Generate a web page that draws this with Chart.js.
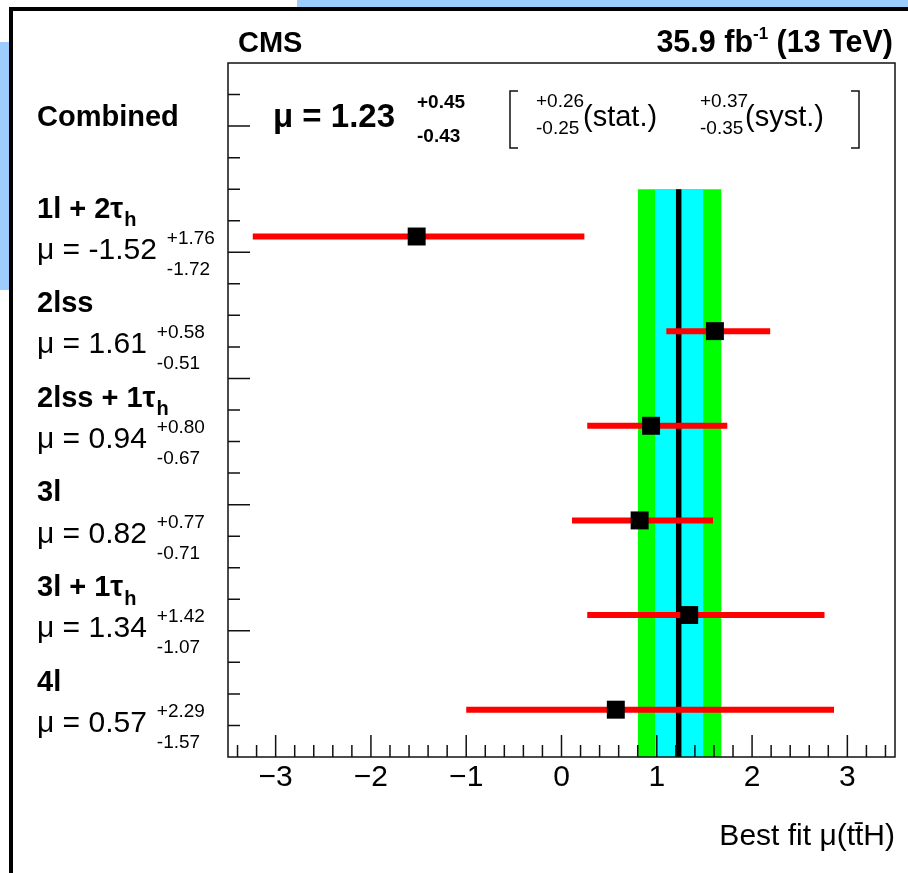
<!DOCTYPE html>
<html>
<head>
<meta charset="UTF-8">
<title>ttH best fit signal strength</title>
<script src="https://cdn.jsdelivr.net/npm/chart.js"></script>
<style>
  body { margin: 0; background: #fff; }
  #wrap { position: relative; width: 908px; height: 873px; overflow: hidden; background: #fff; }
  .blue { position: absolute; background: #9ccdfc; }
  #frame { position: absolute; left: 9px; top: 7px; width: 960px; height: 960px; border: 4px solid #000; box-sizing: border-box; }
  canvas { position: absolute; left: 0; top: 0; }
</style>
</head>
<body>
<div id="wrap">
  <div class="blue" style="left:297px;top:0;width:611px;height:8px"></div>
  <div class="blue" style="left:0;top:42px;width:10px;height:248px"></div>
  <div id="frame"></div>
  <canvas id="fit" width="908" height="873"></canvas>
</div>

<script>
  // per-channel fit results
  const channels = ['1l + 2τ_h', '2lss', '2lss + 1τ_h', '3l', '3l + 1τ_h', '4l'];
  const muFit   = [-1.52, 1.61, 0.94, 0.82, 1.34, 0.57];
  const errUp   = [1.76, 0.58, 0.80, 0.77, 1.42, 2.29];
  const errDown = [1.72, 0.51, 0.67, 0.71, 1.07, 1.57];
  const rowPos  = [16.5, 13.5, 10.5, 7.5, 4.5, 1.5];

  // combined result
  const comboMu = 1.23, comboUp = 0.45, comboDown = 0.43;
  const statUp = 0.26, statDown = 0.25;
  const systUp = 0.37, systDown = 0.35;
  const bandTop = 18;

  const xMajor = [-3, -2, -1, 0, 1, 2, 3];

  const FAM = "'Liberation Sans', Arial, Helvetica, sans-serif";

  function put(ctx, s, x, y, font, align) {
    ctx.font = font + ' ' + FAM;
    ctx.textAlign = align || 'left';
    ctx.textBaseline = 'middle';
    ctx.fillText(s, x, y);
    return ctx.measureText(s).width;
  }

  const annotate = {
    id: 'annotate',
    afterDraw(chart) {
      const { ctx, chartArea: a, scales: { x, y } } = chart;
      ctx.save();
      ctx.fillStyle = '#000';
      ctx.strokeStyle = '#111';
      ctx.lineWidth = 1.5;

      // frame
      ctx.strokeRect(a.left, a.top, a.right - a.left, a.bottom - a.top);

      // x ticks (inside, pointing up)
      ctx.beginPath();
      for (let k = -17; k <= 17; k++) {
        const px = x.getPixelForValue(k / 5);
        const len = k % 5 === 0 ? 22 : 12;
        ctx.moveTo(px, a.bottom);
        ctx.lineTo(px, a.bottom - len);
      }
      // y ticks (inside, pointing right)
      for (let k = 1; k <= 21; k++) {
        const py = y.getPixelForValue(k);
        const len = k % 4 === 0 ? 22 : 12;
        ctx.moveTo(a.left, py);
        ctx.lineTo(a.left + len, py);
      }
      ctx.stroke();

      // header
      put(ctx, 'CMS', a.left + 10, a.top - 19, 'bold 29px');
      const lumiA = '35.9 fb', lumiS = '-1', lumiB = ' (13 TeV)';
      ctx.font = 'bold 30.5px ' + FAM;
      const wA = ctx.measureText(lumiA).width, wB = ctx.measureText(lumiB).width;
      ctx.font = 'bold 17px ' + FAM;
      const wS = ctx.measureText(lumiS).width;
      let lx = a.right - 2 - (wA + wS + wB);
      lx += put(ctx, lumiA, lx, a.top - 19, 'bold 30.5px');
      lx += put(ctx, lumiS, lx, a.top - 29, 'bold 17px');
      put(ctx, lumiB, lx, a.top - 19, 'bold 30.5px');

      // combined line
      const yc = a.top + 55;
      put(ctx, 'Combined', 37, yc, 'bold 29px');
      put(ctx, 'μ = ' + comboMu.toFixed(2), 273, yc, 'bold 33px');
      put(ctx, '+' + comboUp.toFixed(2), 417, yc - 15, 'bold 19px');
      put(ctx, '-' + comboDown.toFixed(2), 417, yc + 19, 'bold 19px');
      ctx.beginPath();
      ctx.moveTo(518, yc - 27); ctx.lineTo(510, yc - 27); ctx.lineTo(510, yc + 30); ctx.lineTo(518, yc + 30);
      ctx.moveTo(851, yc - 27); ctx.lineTo(859, yc - 27); ctx.lineTo(859, yc + 30); ctx.lineTo(851, yc + 30);
      ctx.stroke();
      put(ctx, '+' + statUp.toFixed(2), 536, yc - 16, '19px');
      put(ctx, '-' + statDown.toFixed(2), 536, yc + 11, '19px');
      put(ctx, '(stat.)', 583, yc, '29px');
      put(ctx, '+' + systUp.toFixed(2), 700, yc - 16, '19px');
      put(ctx, '-' + systDown.toFixed(2), 700, yc + 11, '19px');
      put(ctx, '(syst.)', 745, yc, '29px');

      // channel labels
      channels.forEach((name, i) => {
        const p = y.getPixelForValue(rowPos[i]);
        const [main, sub] = name.split('_');
        const w = put(ctx, main, 37, p - 27, 'bold 29px');
        if (sub) put(ctx, sub, 37 + w + 1, p - 16, 'bold 20px');
        const wm = put(ctx, 'μ = ' + muFit[i].toFixed(2), 37, p + 14, '30px');
        put(ctx, '+' + errUp[i].toFixed(2), 37 + wm + 10, p + 2, '19px');
        put(ctx, '-' + errDown[i].toFixed(2), 37 + wm + 10, p + 33, '19px');
      });
      ctx.restore();
    }
  };

  const datasets = [
    {
      data: muFit.map((m, i) => ({ x: m, y: rowPos[i] })),
      showLine: false,
      pointStyle: 'rect',
      pointRadius: 12.7,
      pointBackgroundColor: '#000',
      pointBorderWidth: 0,
      order: 0
    }
  ];
  muFit.forEach((m, i) => {
    datasets.push({
      data: [{ x: m - errDown[i], y: rowPos[i] }, { x: m + errUp[i], y: rowPos[i] }],
      borderColor: '#ff0000',
      borderWidth: 6,
      borderCapStyle: 'butt',
      pointRadius: 0,
      order: 1
    });
  });
  datasets.push({
    data: [{ x: comboMu, y: 0 }, { x: comboMu, y: bandTop }],
    borderColor: '#000',
    borderWidth: 5.5,
    pointRadius: 0,
    order: 2
  });
  datasets.push({
    data: [{ x: comboMu - statDown, y: bandTop }, { x: comboMu + statUp, y: bandTop }],
    borderWidth: 0,
    borderColor: 'rgba(0,0,0,0)',
    backgroundColor: '#00ffff',
    fill: 'origin',
    pointRadius: 0,
    order: 3
  });
  datasets.push({
    data: [{ x: comboMu - comboDown, y: bandTop }, { x: comboMu + comboUp, y: bandTop }],
    borderWidth: 0,
    borderColor: 'rgba(0,0,0,0)',
    backgroundColor: '#00ff00',
    fill: 'origin',
    pointRadius: 0,
    order: 4
  });

  new Chart(document.getElementById('fit'), {
    type: 'line',
    data: { datasets },
    options: {
      responsive: false,
      animation: false,
      events: [],
      layout: { padding: { left: 228, top: 63, right: 13, bottom: 0 } },
      plugins: { legend: { display: false }, tooltip: { enabled: false } },
      scales: {
        x: {
          type: 'linear',
          min: -3.5,
          max: 3.5,
          afterBuildTicks: s => { s.ticks = xMajor.map(v => ({ value: v })); },
          afterFit: s => { s.height = 116; },
          grid: { display: false, drawTicks: false },
          border: { display: false },
          ticks: {
            padding: 3,
            color: '#000',
            maxRotation: 0,
            autoSkip: false,
            font: { family: FAM, size: 30 },
            callback: v => v < 0 ? '\u2212' + Math.abs(v) : String(v)
          },
          title: {
            display: true,
            text: 'Best fit μ(tt\u0304H)',
            align: 'end',
            color: '#000',
            font: { family: FAM, size: 30 },
            padding: { top: 0, bottom: 18 }
          }
        },
        y: { type: 'linear', min: 0, max: 22, display: false }
      }
    },
    plugins: [annotate]
  });
</script>
</body>
</html>
